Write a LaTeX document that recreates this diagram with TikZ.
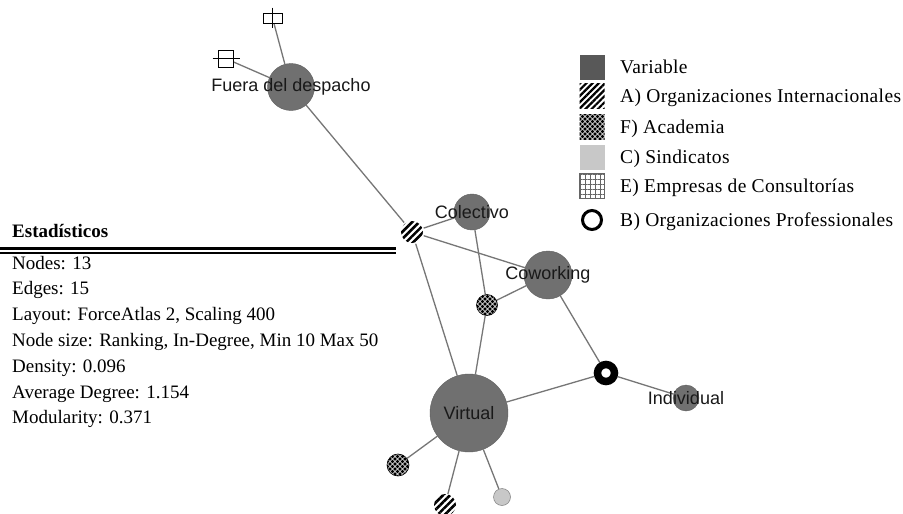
\documentclass[tikz,border=0pt]{standalone}
\usepackage{fontspec}
\setmainfont{Liberation Serif}
\newfontfamily\labfont{Liberation Sans}
\newfontfamily\legfont[LetterSpace=1.8]{Liberation Serif}
\usetikzlibrary{patterns.meta,backgrounds}

\definecolor{vgray}{RGB}{112,112,112}
\definecolor{dgray}{RGB}{88,88,88}
\definecolor{lgray}{RGB}{200,200,200}
\definecolor{egray}{RGB}{118,118,118}

\begin{document}
\begin{tikzpicture}[x=1pt,y=-1pt,
  link/.style={draw=egray,line width=1.3pt},
  lab/.style={font=\labfont\fontsize{18}{18}\selectfont,text=black!90,inner sep=0pt},
  var/.style={circle,fill=vgray,draw=vgray!85!black,line width=0.4pt,inner sep=0pt,minimum size=#1},
  orgint/.style={circle,inner sep=0pt,minimum size=#1,preaction={fill=white},
    pattern={Lines[angle=45,distance=5pt,line width=2.6pt]}},
  acad/.style={circle,inner sep=0pt,minimum size=#1,preaction={fill=white},draw=black,line width=0.6pt,
    pattern={Dots[distance=5pt,radius=1.9pt]},
    postaction={pattern={Dots[distance=5pt,radius=1.9pt,xshift=2.5pt,yshift=2.5pt]}}},
  sind/.style={circle,inner sep=0pt,minimum size=#1,fill=lgray,draw=gray,line width=0.5pt},
  prof/.style={circle,inner sep=0pt,minimum size=17,fill=white,draw=black,line width=7.5pt},
  consult/.style={rectangle,inner sep=0pt,fill=white,draw=black,line width=0.8pt},
  legvar/.style={rectangle,inner sep=0pt,minimum size=25,fill=dgray},
  legA/.style={rectangle,inner sep=0pt,minimum size=25,preaction={fill=white},
    pattern={Lines[angle=45,distance=4.4pt,line width=2.2pt]}},
  legF/.style={rectangle,inner sep=0pt,minimum size=25,preaction={fill=white},
    pattern={Dots[distance=5pt,radius=1.9pt]},
    postaction={pattern={Dots[distance=5pt,radius=1.9pt,xshift=2.5pt,yshift=2.5pt]}}},
  legC/.style={rectangle,inner sep=0pt,minimum size=25,fill=lgray},
  legE/.style={rectangle,inner sep=0pt,minimum size=25,preaction={fill=white},draw=gray!80!black,line width=0.8pt,
    pattern={Hatch[angle=0,distance=5pt,line width=0.9pt]},pattern color=gray!80!black},
  legB/.style={circle,inner sep=0pt,minimum size=19,draw=black,line width=3pt},
  legtext/.style={font=\legfont\fontsize{19.5}{19.5}\selectfont,inner sep=0pt,anchor=base west},
  stat/.style={font=\fontsize{19}{19}\selectfont,inner sep=0pt,anchor=base west}]
\useasboundingbox (0,0) rectangle (903,514);

% variables
\node[var=47,label={[lab]center:Fuera del despacho}] (fuera) at (291,87) {};
\node[var=36,label={[lab]center:Colectivo}] (colectivo) at (472,212) {};
\node[var=48,label={[lab]center:Coworking}] (coworking) at (548,275) {};
\node[var=78,label={[lab]center:Virtual}] (virtual) at (469,413) {};
\node[var=26,label={[lab]center:Individual}] (individual) at (686,398) {};

% actores
\node[orgint=22] (orgA) at (412,232) {};
\node[orgint=22] (orgB) at (445,505) {};
\node[acad=21] (acadA) at (487,305) {};
\node[acad=22] (acadB) at (398,465) {};
\node[sind=17] (sind) at (502,497) {};
\node[prof] (prof) at (606,373) {};
\node[consult,minimum width=19,minimum height=10] (consA) at (272.5,18) {};
\node[consult,minimum width=15,minimum height=17] (consB) at (225.5,58.5) {};
\draw[line width=0.8pt] ([yshift=5]consA.north) -- ([yshift=-5]consA.south);
\draw[line width=0.8pt] ([xshift=-5]consB.west) -- ([xshift=7]consB.east);

\begin{scope}[on background layer]
\fill[white] (0,0) rectangle (903,514);
\foreach \a/\b in {consA/fuera,consB/fuera,fuera/orgA,orgA/colectivo,orgA/coworking,orgA/virtual,
    colectivo/acadA,acadA/coworking,acadA/virtual,coworking/prof,prof/virtual,prof/individual,
    virtual/acadB,virtual/orgB,virtual/sind}
  \draw[link] (\a) -- (\b);
\end{scope}

% leyenda
\foreach \y/\s/\t [count=\i] in {67/legvar/Variable,96/legA/A) Organizaciones Internacionales,
    127/legF/F) Academia,157/legC/C) Sindicatos,186/legE/E) Empresas de Consultorías,
    220/legB/B) Organizaciones Professionales}{
  \node[\s] (leg\i) at (592,\y) {};
  \node[legtext] (legt\i) at (620,\y+6.5) {\t};
}

% estadisticos
\node[stat,font=\fontsize{19}{19}\selectfont\bfseries] (stathead) at (12,237) {Estadísticos};
\draw[line width=2.5pt] (0,248.5) -- (396,248.5);
\draw[line width=1.5pt] (0,253) -- (396,253);
\foreach \t [count=\i from 0] in {Nodes: 13,Edges: 15,{Layout: ForceAtlas 2, Scaling 400},
    {Node size: Ranking, In-Degree, Min 10 Max 50},Density: 0.096,Average Degree: 1.154,Modularity: 0.371}
  \node[stat] (stat\i) at (12,269+25.8*\i) {\t};
\end{tikzpicture}
\end{document}
